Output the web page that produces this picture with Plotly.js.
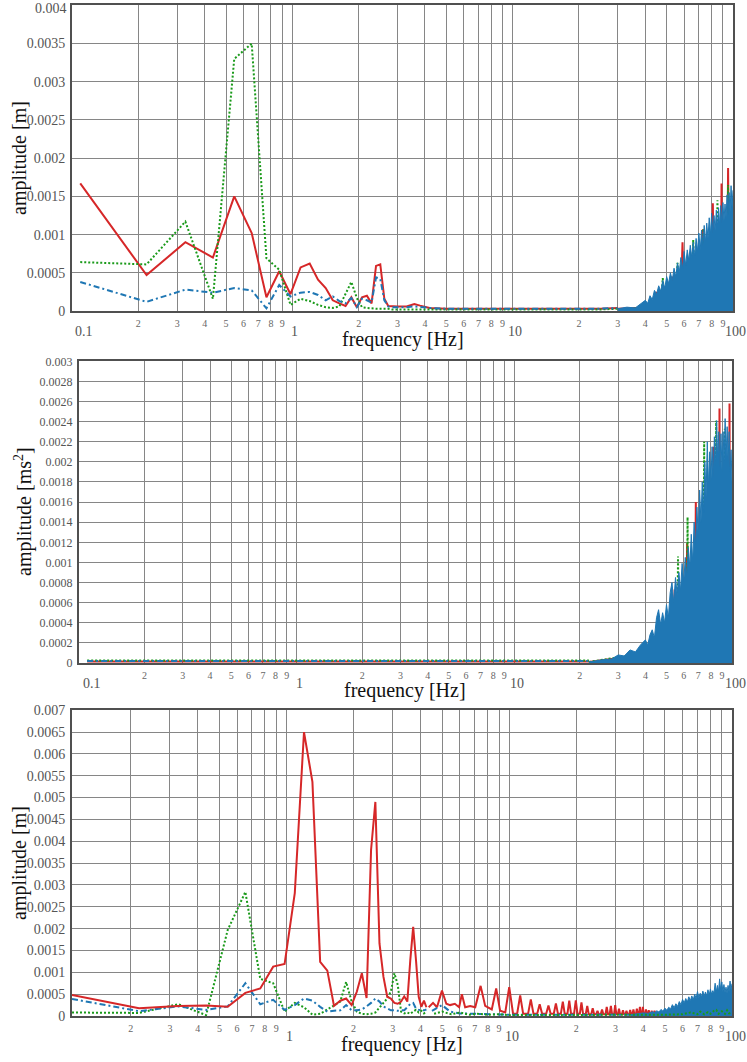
<!DOCTYPE html>
<html><head><meta charset="utf-8">
<script src="https://cdn.plot.ly/plotly-3.0.1.min.js"></script>
<style>html,body{margin:0;padding:0;background:#fff}#chart{width:747px;height:1062px}</style>
</head><body><div id="chart"></div>
<script>
// ---------------- DATA ----------------
// Top panel: displacement amplitude [m]
const topFreq = [0.109,0.218,0.327,0.436,0.545,0.654,0.763,0.872,0.981,1.09,1.199,1.308,1.417,1.526,1.635,1.744,1.853,1.962,2.071,2.18,2.289,2.398,2.507,2.616,2.725,2.834,3.0,3.3,3.58,3.8,4.2,5,7,10,15,20,25,30];
const topRed = [0.00167,0.00047,0.00090,0.00070,0.00150,0.00102,0.00018,0.00052,0.00022,0.00057,0.00062,0.00041,0.00030,0.00014,0.00010,0.000065,0.00018,0.00005,0.00018,0.00020,0.00010,0.00059,0.00061,0.00016,0.000065,0.00006,0.00006,0.00006,0.00009,0.00007,0.00004,0.00003,0.00003,0.00003,0.00003,0.00003,0.00003,0.00004];
const topGreen = [0.00064,0.00061,0.00117,0.00016,0.00330,0.00350,0.00069,0.00054,0.00008,0.00016,0.00013,0.00008,0.00005,0.00004,0.00006,0.00022,0.00038,0.00017,0.00005,0.00004,0.00003,0.00003,0.00003,0.00003,0.00003,0.00002,0.00002,0.00002,0.00002,0.00002,0.00002,0.00002,0.00002,0.00002,0.00002,0.00002,0.00002,0.00003];
const topBlue = [0.00038,0.00012,0.00028,0.00024,0.00030,0.00027,0.000035,0.00034,0.00019,0.00024,0.00025,0.00021,0.00014,0.00019,0.00013,0.00010,0.00017,0.00005,0.00016,0.00014,0.00011,0.00044,0.00042,0.00014,0.00006,0.00005,0.00005,0.00005,0.00006,0.00005,0.00004,0.00003,0.00003,0.00003,0.00003,0.00003,0.00003,0.00004];
const topBlueNoiseF = [30,33,36,38,40,41,42,43,44,45,46,47,48,49,50,51,52,53,54,55,56,57,58,59,60,61,62,63,64,65,66,67,68,69,70,71,72,73,74,75,76,77,78,79,80,81,82,83,84,85,86,87,88,89,90,91,92,93,94,95,96,97,98,99,100];
const topBlueNoiseA = [0.00003,0.00005,0.00004,0.00009,0.00014,0.00010,0.00020,0.00015,0.00027,0.00022,0.00033,0.00026,0.00040,0.00030,0.00045,0.00036,0.00050,0.00040,0.00056,0.00045,0.00063,0.00050,0.00070,0.00055,0.00078,0.00060,0.00080,0.00066,0.00086,0.00070,0.00090,0.00072,0.00095,0.00078,0.00102,0.00080,0.00106,0.00085,0.00112,0.00090,0.00115,0.00095,0.00122,0.00100,0.00128,0.00102,0.00125,0.00105,0.00132,0.00110,0.00135,0.00112,0.00138,0.00115,0.00142,0.00118,0.00140,0.00122,0.00152,0.00125,0.00155,0.00130,0.00164,0.00135,0.00158];
const topRedNoiseF = [30,44,45,46,52,53,54,58,59,60,65,66,67,72,73,74,80,81,82,88,88.7,89.5,94,95,96,98,99,100];
const topRedNoiseA = [0.00003,0.00005,0.00025,0.00005,0.00008,0.00045,0.00008,0.0001,0.0009,0.0001,0.0001,0.0007,0.0001,0.0001,0.00107,0.0001,0.00015,0.00141,0.00015,0.00015,0.00167,0.00015,0.0002,0.00187,0.0002,0.0002,0.0012,0.0001];
const topGreenNoiseF = [30,47,48,49,55,56,57,65,66,67,72,73.5,75,84,85,86,94,95,96,100];
const topGreenNoiseA = [0.00002,0.00005,0.00043,0.00005,0.0001,0.00063,0.0001,0.0001,0.00093,0.0001,0.0001,0.00108,0.0001,0.00015,0.00145,0.00015,0.0002,0.00165,0.0002,0.0001];

// Middle panel: acceleration amplitude [ms^2]
const midFreq = [0.109,0.3,1,3,10,15,22];
const midRed = [0.000015,0.000015,0.000015,0.000015,0.000015,0.000015,0.000015];
const midGreen = [0.000025,0.000025,0.000025,0.000025,0.000025,0.000025,0.000025];
const midBlue = [0.00002,0.00002,0.00002,0.00002,0.00002,0.00002,0.00002];
const midBlueNoiseF = [22,25,28,30,32,34,36,38,40,41,42,43,44,45,46,47,48,49,50,51,52,53,54,55,56,57,58,59,60,61,62,63,64,65,66,67,68,69,70,71,72,73,74,75,76,77,78,79,80,81,82,83,84,85,86,87,88,89,90,91,92,93,94,95,96,97,98,99,100];
const midBlueNoiseA = [0.00001,0.00003,0.00004,0.00008,0.00007,0.00013,0.00011,0.00018,0.00023,0.00018,0.00028,0.00033,0.00025,0.00045,0.00053,0.00038,0.00050,0.00040,0.00058,0.00045,0.00070,0.00080,0.00060,0.00085,0.00068,0.00090,0.00072,0.00099,0.00080,0.00105,0.00085,0.00115,0.00095,0.00128,0.00100,0.00140,0.00115,0.00155,0.00125,0.00172,0.00140,0.00180,0.00150,0.00200,0.00165,0.00220,0.00175,0.00210,0.00180,0.00215,0.00185,0.00225,0.00195,0.00241,0.00200,0.00230,0.00195,0.00228,0.00190,0.00230,0.00200,0.00243,0.00205,0.00235,0.00200,0.00230,0.00190,0.00212,0.00180];
const midRedNoiseF = [22,45,45.5,46,54,54.5,55,61.5,62.2,63,67.5,68.2,69,81.5,82.2,83,87,87.6,88.3,96.8,97.4,98,100];
const midRedNoiseA = [0.00001,0.0001,0.00026,0.0001,0.00015,0.00073,0.00015,0.0002,0.00119,0.0002,0.0002,0.0016,0.0002,0.0003,0.00215,0.0003,0.0003,0.00253,0.0003,0.0003,0.00258,0.0003,0.0002];
const midGreenNoiseF = [22,56,56.5,57,62,62.5,63,74,74.5,75,84,84.6,85.2,92,92.7,93.4,100];
const midGreenNoiseA = [0.00001,0.00015,0.00106,0.00015,0.0002,0.00145,0.0002,0.00025,0.0022,0.00025,0.0003,0.00241,0.0003,0.0003,0.00233,0.0003,0.0002];

// Bottom panel: displacement amplitude [m]
const botFreq = [0.109,0.218,0.327,0.436,0.545,0.654,0.763,0.872,0.981,1.09,1.199,1.308,1.417,1.526,1.635,1.744,1.853,1.962,2.071,2.18,2.289,2.398,2.507,2.616,2.725,2.834,2.943,3.052,3.161,3.27,3.379,3.488,3.597,3.706,3.815,3.924,4.033,4.142,4.25];
const botRed = [0.00048,0.00018,0.00023,0.00024,0.00021,0.00053,0.00063,0.00113,0.00119,0.00281,0.00650,0.00536,0.00124,0.00104,0.00023,0.00035,0.00040,0.00025,0.00056,0.00098,0.00041,0.00380,0.00490,0.00166,0.00090,0.00044,0.00040,0.00030,0.00028,0.00033,0.00045,0.00033,0.00128,0.00204,0.00128,0.00044,0.00021,0.00035,0.00020];
const botGreen = [0.00008,0.00007,0.00027,0.00002,0.00197,0.00284,0.00085,0.00075,0.00010,0.00030,0.00020,0.00003,0.00005,0.00015,0.00025,0.00033,0.00078,0.00033,0.00010,0.00005,0.00004,0.00005,0.00008,0.00018,0.00030,0.00040,0.00056,0.00098,0.00071,0.00010,0.00006,0.00008,0.00005,0.00010,0.00014,0.00008,0.00012,0.00006,0.00010];
const botBlue = [0.00039,0.00011,0.00022,0.00014,0.00022,0.00075,0.00027,0.00037,0.00014,0.00025,0.00040,0.00035,0.00021,0.00010,0.00012,0.00013,0.00025,0.00013,0.00013,0.00015,0.00022,0.00030,0.00040,0.00033,0.00022,0.00018,0.00013,0.00013,0.00012,0.00013,0.00013,0.00020,0.00028,0.00030,0.00017,0.00014,0.00013,0.00013,0.00015];
const botRedTailF = [4.35,4.55,4.74,4.99,5.22,5.43,5.70,5.96,6.13,6.34,6.68,7.04,7.44,7.80,8.35,8.74,9.10,9.60,10.0,10.4,
  10.85,11.2,11.55,12.15,12.5,12.85,13.35,13.7,14.05,14.65,15.0,15.35,15.85,16.2,16.55,17.05,17.4,17.75,18.25,18.6,18.95,19.55,19.9,20.25,20.75,21.1,21.45,
  22.05,22.4,22.75,23.35,23.7,24.05,24.55,24.9,25.25,25.75,26.1,26.45,27.05,27.4,27.75,28.25,28.6,28.95,29.55,29.9,30.25,30.75,31.1,31.45,32.05,32.4,32.75,
  33.25,33.6,33.95,34.55,34.9,35.25,35.75,36.1,36.45,37.05,37.4,37.75,38.25,38.6,38.95,39.45,39.8,40.15,40.75,41.1,41.45,41.95,42.3,42.65,43.25,43.6,43.95,44.55,44.9,45.25,60,100];
const botRedTailA = [0.00020,0.00030,0.00020,0.00058,0.00028,0.00025,0.00028,0.00020,0.00050,0.00020,0.00023,0.00020,0.00069,0.00023,0.00015,0.00063,0.00012,0.00008,0.00066,0.00006,
  0.00005,0.00047,0.00005,0.00005,0.00038,0.00005,0.00005,0.00027,0.00005,0.00005,0.00024,0.00005,0.00005,0.00029,0.00005,0.00005,0.00033,0.00005,0.00005,0.00035,0.00005,0.00005,0.00036,0.00005,0.00005,0.00031,0.00005,
  0.00004,0.00023,0.00004,0.00004,0.00018,0.00004,0.00004,0.00012,0.00004,0.00004,0.00015,0.00004,0.00004,0.00021,0.00004,0.00004,0.00023,0.00004,0.00004,0.00025,0.00004,0.00004,0.00017,0.00004,0.00004,0.00013,0.00004,
  0.00004,0.00012,0.00004,0.00004,0.00014,0.00004,0.00004,0.00015,0.00004,0.00004,0.00017,0.00004,0.00004,0.00021,0.00004,0.00004,0.00021,0.00004,0.00004,0.00015,0.00004,0.00004,0.00013,0.00004,0.00004,0.00012,0.00004,0.00004,0.00012,0.00004,0.00003,0.00003];
const botGreenTailF = [4.6,5.0,5.5,6.0,6.6,7.2,8.0,9.0,10,15,20,30,40,50,60,65,70,72,75,78,80,83,85,87,90,93,95,97,100];
const botGreenTailA = [0.00005,0.00010,0.00004,0.00008,0.00003,0.00005,0.00003,0.00004,0.00002,0.00002,0.00002,0.00002,0.00002,0.00003,0.00004,0.00008,0.00004,0.00010,0.00004,0.00009,0.00005,0.00012,0.00014,0.00005,0.00011,0.00005,0.00013,0.00006,0.00008];
const botBlueTailF = [4.5,4.99,5.43,6,7,8,10,15,20,25,30,35];
const botBlueTailA = [0.00012,0.00025,0.00010,0.00006,0.00005,0.00004,0.00003,0.00003,0.00003,0.00003,0.00003,0.00003];
const botBlueNoiseF = [35,38,40,42,44,45,46,47,48,49,50,51,52,53,54,55,56,57,58,59,60,61,62,63,64,65,66,67,68,69,70,71,72,73,74,75,76,77,78,79,80,81,82,83,84,85,86,87,88,89,90,91,92,93,94,95,96,97,98,99,100];
const botBlueNoiseA = [0.00003,0.00005,0.00007,0.00006,0.00010,0.00008,0.00012,0.00009,0.00015,0.00011,0.00018,0.00013,0.00020,0.00016,0.00026,0.00019,0.00028,0.00022,0.00033,0.00026,0.00038,0.00030,0.00040,0.00032,0.00044,0.00035,0.00046,0.00037,0.00050,0.00040,0.00056,0.00042,0.00052,0.00044,0.00057,0.00045,0.00055,0.00046,0.00060,0.00048,0.00062,0.00050,0.00058,0.00052,0.00075,0.00055,0.00070,0.00056,0.00085,0.00058,0.00078,0.00056,0.00072,0.00054,0.00066,0.00052,0.00070,0.00056,0.00080,0.00060,0.00074];

// Tick labels
const xTickVals = [0.1,0.2,0.3,0.4,0.5,0.6,0.7,0.8,0.9,1,2,3,4,5,6,7,8,9,10,20,30,40,50,60,70,80,90,100];
const xTickText = ['','2','3','4','5','6','7','8','9','','2','3','4','5','6','7','8','9','','2','3','4','5','6','7','8','9',''];
const xMajorVals = [0.1,1,10,100];
const xMajorText = ['0.1','1','10','100'];
const topYVals = [0,0.0005,0.001,0.0015,0.002,0.0025,0.003,0.0035,0.004];
const topYText = ['0','0.0005','0.001','0.0015','0.002','0.0025','0.003','0.0035',''];
const topYEdgeLabel = '0.004';
const midYVals = [0,0.0002,0.0004,0.0006,0.0008,0.001,0.0012,0.0014,0.0016,0.0018,0.002,0.0022,0.0024,0.0026,0.0028,0.003];
const midYText = ['0','0.0002','0.0004','0.0006','0.0008','0.001','0.0012','0.0014','0.0016','0.0018','0.002','0.0022','0.0024','0.0026','0.0028','0.003'];
const botYVals = [0,0.0005,0.001,0.0015,0.002,0.0025,0.003,0.0035,0.004,0.0045,0.005,0.0055,0.006,0.0065,0.007];
const botYText = ['0','0.0005','0.001','0.0015','0.002','0.0025','0.003','0.0035','0.004','0.0045','0.005','0.0055','0.006','0.0065','0.007'];

// ---------------- STYLE / LAYOUT ----------------
const W = 747, H = 1062;
const px = v => v / W, py = v => 1 - v / H;
const SERIF = 'Liberation Serif, Times New Roman, serif';
const RED = '#d62728', GREEN = '#1a9a1a', BLUE = '#1f77b4';
const redLine = {color: RED, width: 2};
const greenLine = {color: GREEN, width: 2, dash: '2px,2px'};
const blueLine = {color: BLUE, width: 2, dash: '6px,3px,2px,3px'};

function tr(x, y, line, ax, extra) {
  return Object.assign({type: 'scatter', mode: 'lines', x: x, y: y, line: line,
    xaxis: 'x' + ax, yaxis: 'y' + ax, hoverinfo: 'skip', showlegend: false}, extra || {});
}
const blueFill = {fill: 'tozeroy', fillcolor: BLUE};

const data = [
  tr(topFreq, topRed, redLine, ''),
  tr(topFreq, topGreen, greenLine, ''),
  tr(topFreq, topBlue, blueLine, ''),
  tr(topRedNoiseF, topRedNoiseA, {color: RED, width: 2}, ''),
  tr(topGreenNoiseF, topGreenNoiseA, {color: GREEN, width: 2, dash: '2px,2px'}, ''),
  tr(topBlueNoiseF, topBlueNoiseA, {color: BLUE, width: 1}, '', blueFill),

  tr(midFreq, midRed, redLine, '2'),
  tr(midFreq, midGreen, greenLine, '2'),
  tr(midFreq, midBlue, blueLine, '2'),
  tr(midRedNoiseF, midRedNoiseA, {color: RED, width: 2}, '2'),
  tr(midGreenNoiseF, midGreenNoiseA, {color: GREEN, width: 2, dash: '2px,2px'}, '2'),
  tr(midBlueNoiseF, midBlueNoiseA, {color: BLUE, width: 1}, '2', blueFill),

  tr(botFreq, botGreen, greenLine, '3'),
  tr(botFreq, botBlue, blueLine, '3'),
  tr(botFreq, botRed, redLine, '3'),
  tr(botRedTailF, botRedTailA, redLine, '3'),
  tr(botBlueTailF, botBlueTailA, blueLine, '3'),
  tr(botBlueNoiseF, botBlueNoiseA, {color: BLUE, width: 1}, '3', blueFill),
  tr(botGreenTailF, botGreenTailA, greenLine, '3')
];

function xAxis(dom, range, anchor) {
  return {domain: dom, type: 'log', range: range, anchor: anchor,
    tickmode: 'array', tickvals: xTickVals, ticktext: xTickText, ticks: '',
    tickfont: {family: SERIF, size: 10, color: '#666'}, ticklabelstandoff: 2, ticklabeloverflow: 'allow',
    showgrid: true, gridcolor: '#868686', gridwidth: 1, zeroline: false,
    showline: true, mirror: true, linecolor: '#505050', linewidth: 2, fixedrange: true};
}
function yAxis(dom, range, vals, text, size, anchor) {
  return {domain: dom, range: range, anchor: anchor,
    tickmode: 'array', tickvals: vals, ticktext: text, ticks: '',
    tickfont: {family: SERIF, size: size, color: '#555'}, ticklabelstandoff: 2, ticklabeloverflow: 'allow',
    showgrid: true, gridcolor: '#868686', gridwidth: 1, zeroline: false,
    showline: true, mirror: true, linecolor: '#505050', linewidth: 2, fixedrange: true};
}

const annotations = [];
function majors(xref, yPix, shift, list) {
  list.forEach(i => {
    annotations.push({x: Math.log10(xMajorVals[i]), y: py(yPix), xref: xref, yref: 'paper', text: xMajorText[i],
      showarrow: false, xanchor: i === 0 ? 'left' : 'center', yanchor: 'middle', xshift: i === 0 ? shift - 1 : shift,
      font: {family: SERIF, size: 14, color: '#555'}});
  });
}
majors('x', 331, 2, [0, 1, 2, 3]);
majors('x2', 683, 3, [0, 1, 2, 3]);
majors('x3', 1036, 3, [1, 2, 3]);
// top-most y label of the first panel, nudged inside the page like the reference
annotations.push({x: px(69), y: py(9), xref: 'paper', yref: 'paper', text: topYEdgeLabel, showarrow: false,
  xanchor: 'right', yanchor: 'middle', font: {family: SERIF, size: 14, color: '#555'}});
function title(text, xp, yp, angle) {
  annotations.push({x: px(xp), y: py(yp), xref: 'paper', yref: 'paper', text: text, showarrow: false,
    xanchor: 'center', yanchor: 'middle', textangle: angle || 0,
    font: {family: SERIF, size: 20, color: '#111'}});
}
title('frequency [Hz]', 403, 339);
title('frequency [Hz]', 405, 690);
title('frequency [Hz]', 402, 1044);
title('amplitude [m]', 19, 158, -90);
title('amplitude [ms<sup>2</sup>]', 24, 512, -90);
title('amplitude [m]', 19, 863, -90);

const layout = {
  width: W, height: H, margin: {l: 0, r: 0, t: 0, b: 0},
  paper_bgcolor: '#fff', plot_bgcolor: '#fff', showlegend: false, hovermode: false,
  xaxis: xAxis([px(72), px(733)], [-1, 2], 'y'),
  yaxis: yAxis([py(311), py(5)], [0, 0.004005], topYVals, topYText, 14, 'x'),
  xaxis2: xAxis([px(79), px(732)], [-1, 2], 'y2'),
  yaxis2: yAxis([py(663), py(361)], [0, 0.003003], midYVals, midYText, 12, 'x2'),
  xaxis3: xAxis([px(72), px(732)], [Math.log10(0.109), 2], 'y3'),
  yaxis3: yAxis([py(1016), py(710)], [0, 0.007005], botYVals, botYText, 14, 'x3'),
  annotations: annotations
};

Plotly.newPlot('chart', data, layout, {staticPlot: true, displayModeBar: false});
</script></body></html>
